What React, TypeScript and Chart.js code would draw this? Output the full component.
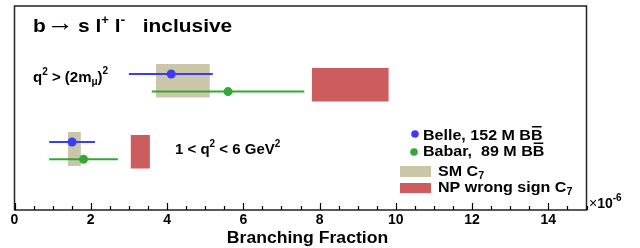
import { useEffect, useRef } from "react";
import { Chart, registerables } from "chart.js";

Chart.register(...registerables);

const FONT = '"Liberation Sans", Arial, Helvetica, sans-serif';

// ---- axis ----
const xMin = 0;
const xMax = 15;
const xMajorTicks = [0, 2, 4, 6, 8, 10, 12, 14];
const xMinorStep = 0.5;
const xTitle = "Branching Fraction";
const xExponent = "-6";

// hidden vertical axis (row levels)
const yMin = 0;
const yMax = 10.2;

// ---- Belle (q2 > (2m_mu)^2, 1<q2<6) ----
const belleValues = [4.11, 1.51];
const belleLow = [3.0, 0.91];
const belleHigh = [5.2, 2.11];
const belleRows = [6.8, 3.4];

// ---- Babar ----
const babarValues = [5.6, 1.81];
const babarLow = [3.6, 0.91];
const babarHigh = [7.6, 2.71];
const babarRows = [5.92, 2.54];

// ---- SM C7 prediction bands ----
const smLow = [3.71, 1.4];
const smHigh = [5.12, 1.74];
const smBottom = [5.62, 2.2];
const smTop = [7.3, 3.9];

// ---- NP wrong-sign C7 bands ----
const npLow = [7.8, 3.05];
const npHigh = [9.81, 3.55];
const npBottom = [5.42, 2.07];
const npTop = [7.1, 3.75];

const BLUE = "#3c3cf2";
const GREEN = "#33a833";
const TAN = "#ccc6a9";
const RED = "#cd5c5e";

type Part = { t: string; size: number; dy?: number; bold?: boolean; dx?: number; at?: number; over?: boolean };

function drawRich(ctx: CanvasRenderingContext2D, x: number, y: number, parts: Part[], sx = 1) {
  let cx = x;
  ctx.textAlign = "left";
  ctx.textBaseline = "alphabetic";
  for (const p of parts) {
    ctx.font = `${p.bold === false ? "" : "bold "}${p.size}px ${FONT}`;
    if (p.at !== undefined) cx = p.at;
    cx += p.dx || 0;
    const w = ctx.measureText(p.t).width * sx;
    ctx.save();
    ctx.translate(cx, y + (p.dy || 0));
    ctx.scale(sx, 1);
    ctx.fillText(p.t, 0, 0);
    ctx.restore();
    if (p.over) {
      ctx.save();
      ctx.strokeStyle = ctx.fillStyle as string;
      ctx.lineWidth = 1.5;
      ctx.beginPath();
      const oy = y + (p.dy || 0) - p.size * 0.85;
      ctx.moveTo(cx + 1, oy);
      ctx.lineTo(cx + w - 1, oy);
      ctx.stroke();
      ctx.restore();
    }
    cx += w;
  }
}

function box(lo: number, hi: number, bottom: number, top: number) {
  return [
    { x: lo, y: bottom },
    { x: hi, y: bottom },
    { x: hi, y: top },
    { x: lo, y: top },
    { x: lo, y: bottom },
  ];
}

const decorations = {
  id: "decorations",
  afterDraw(chart: any) {
    const ctx: CanvasRenderingContext2D = chart.ctx;
    const { left, right, top, bottom } = chart.chartArea;
    const xs = chart.scales.x;
    ctx.save();
    // frame
    ctx.strokeStyle = "#222";
    ctx.lineWidth = 1.5;
    ctx.strokeRect(left, top, right - left, bottom - top);
    // ticks
    ctx.strokeStyle = "#000";
    ctx.lineWidth = 1.2;
    ctx.beginPath();
    for (let v = xMin; v <= xMax + 1e-9; v += xMinorStep) {
      const px = Math.round(xs.getPixelForValue(v)) + 0.5;
      const major = xMajorTicks.some((m) => Math.abs(m - v) < 1e-9);
      ctx.moveTo(px, bottom);
      ctx.lineTo(px, bottom - (major ? 7 : 4));
    }
    ctx.stroke();

    ctx.fillStyle = "#000";
    // title
    drawRich(ctx, 33, 31.5, [
      { t: "b", size: 19 },
      { t: "\u2192", size: 25, bold: false, at: 46.5, dy: -1 },
      { t: "s l", size: 19, at: 78 },
      { t: "+", size: 12, dy: -8 },
      { t: " l", size: 19 },
      { t: "-", size: 13, dy: -8 },
      { t: "   inclusive", size: 19 },
    ], 1.1);

    // region labels
    drawRich(ctx, 33, 82, [
      { t: "q", size: 15 },
      { t: "2", size: 10, dy: -7 },
      { t: " > (2m", size: 15 },
      { t: "\u03bc", size: 10, dy: 3 },
      { t: ")", size: 15 },
      { t: "2", size: 10, dy: -8 },
    ]);
    drawRich(ctx, 175, 154, [
      { t: "1 < q", size: 15 },
      { t: "2", size: 10, dy: -7 },
      { t: " < 6 GeV", size: 15 },
      { t: "2", size: 10, dy: -7 },
    ]);

    // legend
    ctx.fillStyle = BLUE;
    ctx.beginPath();
    ctx.arc(415, 134, 3.8, 0, Math.PI * 2);
    ctx.fill();
    ctx.fillStyle = GREEN;
    ctx.beginPath();
    ctx.arc(414, 152, 3.8, 0, Math.PI * 2);
    ctx.fill();
    ctx.fillStyle = TAN;
    ctx.fillRect(400, 166, 31, 11);
    ctx.fillStyle = RED;
    ctx.fillRect(400, 183, 31, 10);
    ctx.fillStyle = "#000";
    drawRich(ctx, 423, 139.5, [
      { t: "Belle, 152 M B", size: 15 },
      { t: "B", size: 15, over: true },
    ], 1.07);
    drawRich(ctx, 423, 156, [
      { t: "Babar,  89 M B", size: 15 },
      { t: "B", size: 15, over: true },
    ], 1.07);
    drawRich(ctx, 438, 175.5, [
      { t: "SM C", size: 15 },
      { t: "7", size: 10, dy: 3 },
    ], 1.07);
    drawRich(ctx, 438, 192, [
      { t: "NP wrong sign C", size: 15 },
      { t: "7", size: 10, dy: 3 },
    ], 1.07);

    // exponent
    drawRich(ctx, 589, 208, [
      { t: "\u00d7", size: 14, bold: false },
      { t: "10", size: 14 },
      { t: xExponent, size: 10, dy: -7 },
    ]);

    // axis title
    ctx.font = `bold 16px ${FONT}`;
    ctx.textAlign = "left";
    ctx.textBaseline = "alphabetic";
    const tw = ctx.measureText(xTitle).width * 1.1;
    ctx.translate(307.5 - tw / 2, 243);
    ctx.scale(1.1, 1);
    ctx.fillText(xTitle, 0, 0);
    ctx.restore();
  },
};

export default function App() {
  const ref = useRef<HTMLCanvasElement>(null);
  useEffect(() => {
    const datasets: any[] = [];
    for (let i = 0; i < belleValues.length; i++) {
      datasets.push({
        label: "Belle",
        data: [
          { x: belleLow[i], y: belleRows[i] },
          { x: belleValues[i], y: belleRows[i] },
          { x: belleHigh[i], y: belleRows[i] },
        ],
        borderColor: BLUE,
        backgroundColor: BLUE,
        borderWidth: 2,
        pointRadius: [0, 4.5, 0],
        pointBorderWidth: 0,
        pointBackgroundColor: BLUE,
        order: 1,
      });
      datasets.push({
        label: "Babar",
        data: [
          { x: babarLow[i], y: babarRows[i] },
          { x: babarValues[i], y: babarRows[i] },
          { x: babarHigh[i], y: babarRows[i] },
        ],
        borderColor: GREEN,
        backgroundColor: GREEN,
        borderWidth: 2,
        pointRadius: [0, 4.5, 0],
        pointBorderWidth: 0,
        pointBackgroundColor: GREEN,
        order: 1,
      });
      datasets.push({
        label: "SM C7",
        data: box(smLow[i], smHigh[i], smBottom[i], smTop[i]),
        borderColor: "rgba(0,0,0,0)",
        borderWidth: 0.01,
        backgroundColor: TAN,
        fill: "shape",
        pointRadius: 0,
        order: 5,
      });
      datasets.push({
        label: "NP wrong sign C7",
        data: box(npLow[i], npHigh[i], npBottom[i], npTop[i]),
        borderColor: "rgba(0,0,0,0)",
        borderWidth: 0.01,
        backgroundColor: RED,
        fill: "shape",
        pointRadius: 0,
        order: 5,
      });
    }
    const chart = new Chart(ref.current!, {
      type: "line",
      data: { datasets },
      plugins: [decorations],
      options: {
        animation: false,
        responsive: false,
        devicePixelRatio: 1,
        layout: { padding: { left: 14.5, right: 53.5, top: 6, bottom: 0 } },
        plugins: { legend: { display: false }, tooltip: { enabled: false } },
        elements: { line: { tension: 0 } },
        scales: {
          x: {
            type: "linear",
            min: xMin,
            max: xMax,
            grid: { display: false, drawTicks: false },
            border: { display: false },
            afterBuildTicks: (s: any) => {
              s.ticks = xMajorTicks.map((v) => ({ value: v }));
            },
            afterFit: (s: any) => {
              s.height = 38;
            },
            ticks: {
              padding: 2,
              color: "#000",
              maxRotation: 0,
              autoSkip: false,
              font: { family: FONT, size: 14, weight: "bold" },
            },
          },
          y: { type: "linear", min: yMin, max: yMax, display: false },
        },
      } as any,
    });
    return () => chart.destroy();
  }, []);
  return (
    <div style={{ position: "fixed", left: 0, top: 0, width: 640, height: 248, background: "#fff" }}>
      <canvas ref={ref} width={640} height={248} style={{ display: "block" }} />
    </div>
  );
}
